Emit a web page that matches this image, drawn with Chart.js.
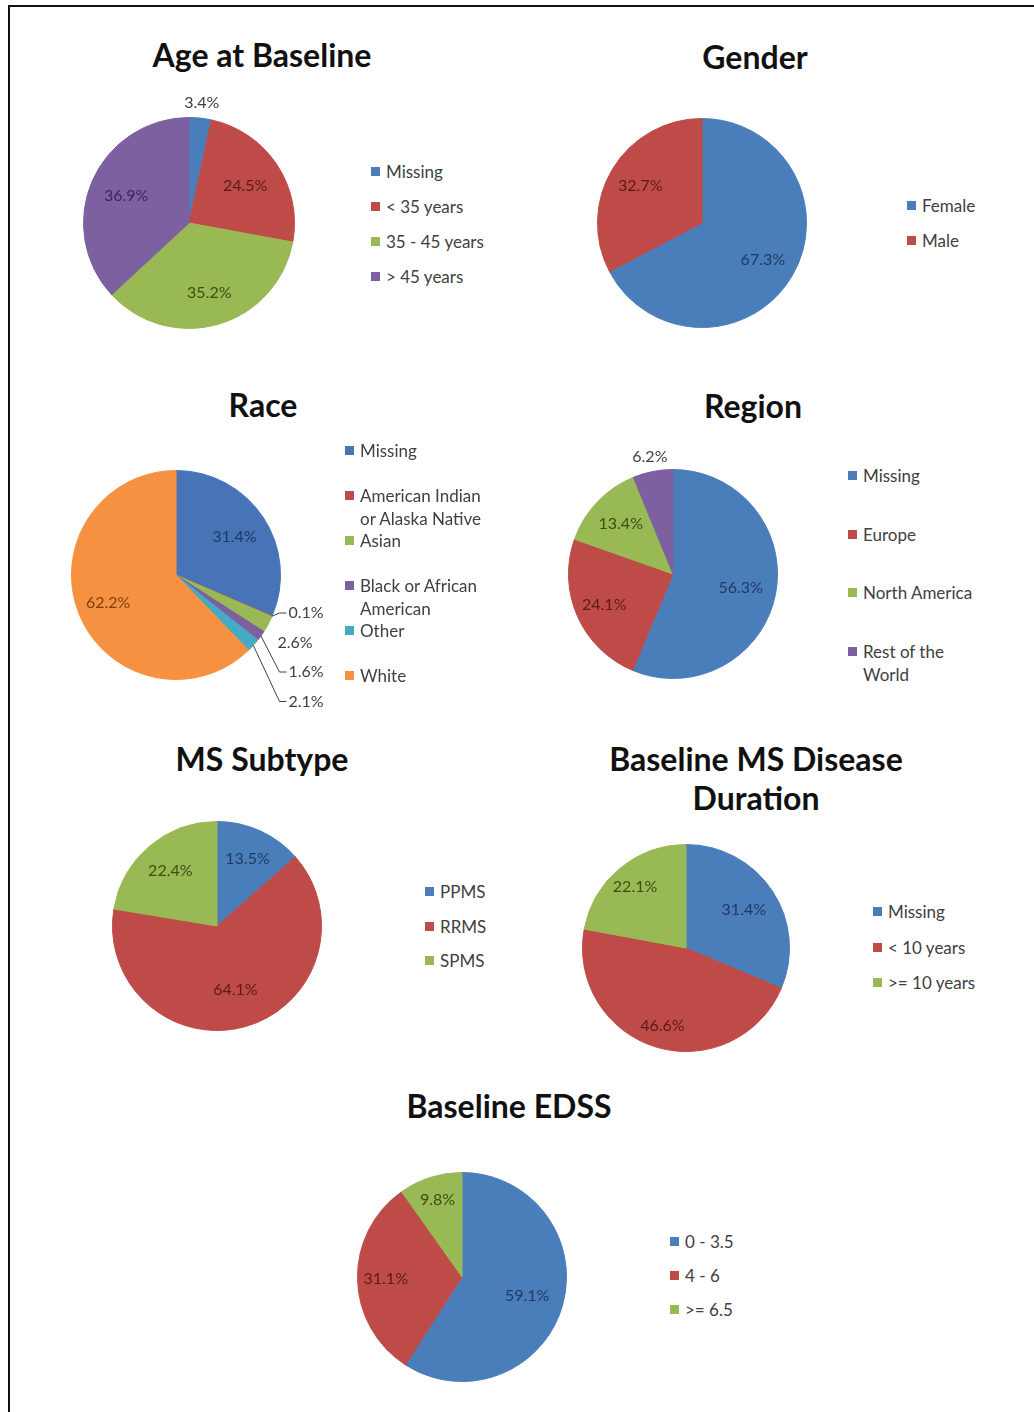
<!DOCTYPE html>
<html>
<head>
<meta charset="utf-8">
<script src="https://cdn.jsdelivr.net/npm/chart.js@4.4.0/dist/chart.umd.min.js"></script>
<style>
body { margin: 0; background: #fff; width: 1034px; height: 1412px; position: relative; overflow: hidden; font-family: Lato, 'Open Sans', sans-serif; }
.frame { position: absolute; left: 8px; top: 5px; width: 1100px; height: 1500px; border-top: 2px solid #111; border-left: 2px solid #111; }
.title { position: absolute; width: 400px; text-align: center; font-weight: 700; font-size: 32px; line-height: 39px; color: #111; }
.item { position: absolute; font-size: 17px; line-height: 23px; color: #404040; }
.item .sw { position: absolute; left: 0; top: 7px; width: 9px; height: 9px; }
.item .tx { position: absolute; left: 15px; top: 0; width: max-content; }
canvas { position: absolute; }
</style>
</head>
<body>
<div class="frame"></div>
<script>
// values (percent)
const ageLabels = ['Missing', '< 35 years', '35 - 45 years', '> 45 years'];
const ageValues = [3.4, 24.5, 35.2, 36.9];

const genderLabels = ['Female', 'Male'];
const genderValues = [67.3, 32.7];

const raceLabels = ['Missing', 'American Indian or Alaska Native', 'Asian', 'Black or African American', 'Other', 'White'];
const raceValues = [31.4, 0.1, 2.6, 1.6, 2.1, 62.2];

const regionLabels = ['Missing', 'Europe', 'North America', 'Rest of the World'];
const regionValues = [56.3, 24.1, 13.4, 6.2];

const subtypeLabels = ['PPMS', 'RRMS', 'SPMS'];
const subtypeValues = [13.5, 64.1, 22.4];

const durationLabels = ['Missing', '< 10 years', '>= 10 years'];
const durationValues = [31.4, 46.6, 22.1];

const edssLabels = ['0 - 3.5', '4 - 6', '>= 6.5'];
const edssValues = [59.1, 31.1, 9.8];

// Excel 2007 style palette
const BLUE = '#4A7EBB', RED = '#BE4B48', GREEN = '#98B954', PURPLE = '#7D60A0', AQUA = '#46AAC5', ORANGE = '#F59140';
const RACE_BLUE = '#4674B6';
const DARK = { blue: '#1F3A64', red: '#5C1A18', green: '#3B4F14', purple: '#3A2856', orange: '#7F3F0C', gray: '#404040' };

function addTitle(lines, cx, capY) {
    const d = document.createElement('div');
    d.className = 'title';
    d.style.left = (cx - 200) + 'px';
    d.style.top = (capY - 20) + 'px';
    lines.forEach((t, i) => {
        if (i) d.appendChild(document.createElement('br'));
        d.appendChild(document.createTextNode(t));
    });
    document.body.appendChild(d);
}

function addLegend(labels, colors, x, y0, step, maxW) {
    labels.forEach((t, i) => {
        const item = document.createElement('div');
        item.className = 'item';
        item.style.left = x + 'px';
        item.style.top = (y0 + i * step - 12) + 'px';
        const sw = document.createElement('span');
        sw.className = 'sw';
        sw.style.background = colors[i];
        const tx = document.createElement('span');
        tx.className = 'tx';
        tx.style.maxWidth = maxW + 'px';
        tx.textContent = t;
        item.appendChild(sw);
        item.appendChild(tx);
        document.body.appendChild(item);
    });
}

// outside: per slice null (inside), 'r' (just outside the rim) or {row, leader}
function addPie(values, colors, textColors, factors, outside, cx, cy, r, padR) {
    const pad = 30;
    padR = padR || pad;
    const canvas = document.createElement('canvas');
    canvas.width = 2 * r + pad + padR;
    canvas.height = 2 * r + 2 * pad;
    canvas.style.left = (cx - r - pad) + 'px';
    canvas.style.top = (cy - r - pad) + 'px';
    document.body.appendChild(canvas);

    const sliceLabels = {
        id: 'sliceLabels',
        afterDatasetsDraw(chart) {
            const ctx = chart.ctx;
            const arcs = chart.getDatasetMeta(0).data;
            ctx.save();
            ctx.font = '16px Lato';
            ctx.textBaseline = 'middle';
            arcs.forEach((arc, i) => {
                const p = arc.getProps(['x', 'y', 'startAngle', 'endAngle', 'outerRadius'], true);
                const mid = (p.startAngle + p.endAngle) / 2;
                const text = values[i].toFixed(1) + '%';
                const o = outside[i];
                if (!o) {
                    const d = p.outerRadius * factors[i];
                    ctx.fillStyle = textColors[i];
                    ctx.textAlign = 'center';
                    ctx.fillText(text, p.x + Math.cos(mid) * d, p.y + Math.sin(mid) * d);
                } else if (o === 'r') {
                    const d = p.outerRadius + 15;
                    ctx.fillStyle = DARK.gray;
                    ctx.textAlign = 'center';
                    ctx.fillText(text, p.x + Math.cos(mid) * d, p.y + Math.sin(mid) * d);
                } else {
                    const tx = p.x + p.outerRadius + (o.leader ? 8 : -3);
                    const ty = p.y + 38 + o.row * 29.5;
                    if (o.leader) {
                        ctx.strokeStyle = DARK.gray;
                        ctx.lineWidth = 1;
                        ctx.beginPath();
                        ctx.moveTo(p.x + Math.cos(mid) * p.outerRadius, p.y + Math.sin(mid) * p.outerRadius);
                        ctx.lineTo(tx - 9, ty);
                        ctx.lineTo(tx - 2, ty);
                        ctx.stroke();
                    }
                    ctx.fillStyle = DARK.gray;
                    ctx.textAlign = 'left';
                    ctx.fillText(text, tx, ty);
                }
            });
            ctx.restore();
        }
    };

    return new Chart(canvas, {
        type: 'pie',
        data: {
            datasets: [{
                data: values,
                backgroundColor: colors,
                borderColor: colors,
                borderWidth: 1
            }]
        },
        options: {
            responsive: false,
            animation: false,
            events: [],
            layout: { padding: { left: pad, top: pad, right: padR, bottom: pad } },
            plugins: { legend: { display: false }, tooltip: { enabled: false } }
        },
        plugins: [sliceLabels]
    });
}

// Age at Baseline
const ageColors = [BLUE, RED, GREEN, PURPLE];
addTitle(['Age at Baseline'], 262, 55);
addPie(ageValues, ageColors, [DARK.blue, DARK.red, DARK.green, DARK.purple],
    [0.65, 0.64, 0.69, 0.65], ['r', null, null, null], 189, 223, 106);
addLegend(ageLabels, ageColors, 371, 172, 35, 200);

// Gender
const genderColors = [BLUE, RED];
addTitle(['Gender'], 755, 57);
addPie(genderValues, genderColors, [DARK.blue, DARK.red],
    [0.68, 0.69], [null, null], 702, 223, 105);
addLegend(genderLabels, genderColors, 907, 206, 35, 200);

// Race
const raceColors = [RACE_BLUE, RED, GREEN, PURPLE, AQUA, ORANGE];
addTitle(['Race'], 263, 405);
addPie(raceValues, raceColors, [DARK.blue, DARK.red, DARK.green, DARK.purple, DARK.blue, DARK.orange],
    [0.67, 0.7, 0.7, 0.7, 0.7, 0.7],
    [null, { row: 0, leader: true }, { row: 1, leader: false }, { row: 2, leader: true }, { row: 3, leader: true }, null],
    176, 575, 105, 90);
addLegend(raceLabels, raceColors, 345, 451, 45, 140);

// Region
const regionColors = [BLUE, RED, GREEN, PURPLE];
addTitle(['Region'], 753, 406);
addPie(regionValues, regionColors, [DARK.blue, DARK.red, DARK.green, DARK.purple],
    [0.66, 0.72, 0.69, 0.7], [null, null, null, 'r'], 673, 574, 105);
addLegend(regionLabels, regionColors, 848, 476, 58.5, 120);

// MS Subtype
const subtypeColors = [BLUE, RED, GREEN];
addTitle(['MS Subtype'], 262, 759);
addPie(subtypeValues, subtypeColors, [DARK.blue, DARK.red, DARK.green],
    [0.71, 0.64, 0.69], [null, null, null], 217, 926, 105);
addLegend(subtypeLabels, subtypeColors, 425, 892, 34.5, 200);

// Baseline MS Disease Duration
const durationColors = [BLUE, RED, GREEN];
addTitle(['Baseline MS Disease', 'Duration'], 756, 758.5);
addPie(durationValues, durationColors, [DARK.blue, DARK.red, DARK.green],
    [0.67, 0.79, 0.77], [null, null, null], 686, 948, 104);
addLegend(durationLabels, durationColors, 873, 912, 35.5, 200);

// Baseline EDSS
const edssColors = [BLUE, RED, GREEN];
addTitle(['Baseline EDSS'], 509, 1106);
addPie(edssValues, edssColors, [DARK.blue, DARK.red, DARK.green],
    [0.65, 0.73, 0.77], [null, null, null], 462, 1277, 105);
addLegend(edssLabels, edssColors, 670, 1242, 34, 200);
</script>
</body>
</html>
